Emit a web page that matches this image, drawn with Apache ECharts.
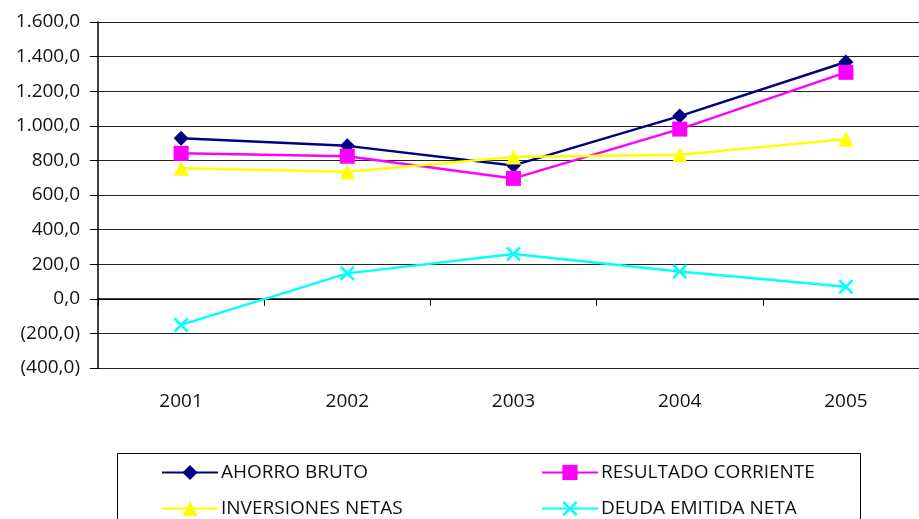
<!DOCTYPE html>
<html>
<head>
<meta charset="utf-8">
<script src="https://cdn.jsdelivr.net/npm/echarts@6/dist/echarts.min.js"></script>
<style>
html,body{margin:0;padding:0;background:#fff;}
#chart{width:919px;height:519px;}
</style>
</head>
<body>
<div id="chart"></div>
<script>
// Years on the category axis
const years = ['2001', '2002', '2003', '2004', '2005'];

// Series values (thousands)
const ahorroBruto = [928, 884, 771, 1056, 1369];
const resultadoCorriente = [841, 824, 696, 981, 1309];
const inversionesNetas = [755, 735, 819, 833, 923];
const deudaEmitidaNeta = [-151, 147, 259, 158, 70];

// Series names
const seriesNames = ['AHORRO BRUTO', 'RESULTADO CORRIENTE', 'INVERSIONES NETAS', 'DEUDA EMITIDA NETA'];

const FONT = '"Open Sans", "Noto Sans", sans-serif';
const FS = 19;
const crossPath = 'path://M0,1.2L1.2,0L5,3.8L8.8,0L10,1.2L6.2,5L10,8.8L8.8,10L5,6.2L1.2,10L0,8.8L3.8,5Z';

// Spanish number format: thousands with '.', decimals with ',', negatives in parentheses
function fmt(v) {
  const a = Math.abs(v);
  const s = a.toFixed(1).replace('.', ',');
  const parts = s.split(',');
  const intPart = parts[0].replace(/\B(?=(\d{3})+(?!\d))/g, '.');
  const out = intPart + ',' + parts[1];
  return v < 0 ? '(' + out + ')' : out;
}

function lineSeries(name, data, color, symbol, size) {
  return {
    name: name,
    type: 'line',
    data: data,
    symbol: symbol,
    symbolSize: size,
    showAllSymbol: true,
    lineStyle: { color: color, width: 2.5 },
    itemStyle: { color: color, borderWidth: 0 },
    emphasis: { disabled: true },
    z: 3
  };
}

// One legend entry per block, laid out as a 2x2 table
function legendItem(left, top, name) {
  return {
    left: left, top: top, orient: 'horizontal', padding: 0,
    itemWidth: 56, itemHeight: 19,
    data: [name],
    textStyle: { fontSize: FS, color: '#111', fontFamily: FONT, padding: [0, 0, 0, -2] },
    selectedMode: false
  };
}

const chart = echarts.init(document.getElementById('chart'), null, { renderer: 'canvas' });

chart.setOption({
  animation: false,
  backgroundColor: '#ffffff',
  textStyle: { fontFamily: FONT },
  grid: { left: 98, top: 22, width: 831, height: 346, outerBoundsMode: 'none', containLabel: false },
  xAxis: {
    type: 'category',
    data: years,
    boundaryGap: true,
    axisLine: { lineStyle: { color: '#000', width: 1.5 } },
    axisTick: { show: true, length: 7, inside: false, lineStyle: { color: '#000' } },
    axisLabel: { color: '#111', fontSize: FS, margin: 24, fontFamily: FONT },
    splitLine: { show: false }
  },
  yAxis: {
    type: 'value',
    min: -400,
    max: 1600,
    interval: 200,
    axisLine: { show: true, lineStyle: { color: '#000', width: 1.5 } },
    axisTick: { show: true, length: 8, lineStyle: { color: '#000' } },
    axisLabel: { color: '#111', fontSize: FS, margin: 18, fontFamily: FONT, formatter: fmt },
    splitLine: { show: true, lineStyle: { color: '#222', width: 1 } }
  },
  legend: [
    legendItem(161, 463, seriesNames[0]),
    legendItem(161, 499, seriesNames[2]),
    legendItem(541, 463, seriesNames[1]),
    legendItem(541, 499, seriesNames[3])
  ],
  graphic: [
    {
      type: 'rect',
      shape: { x: 117.5, y: 453.5, width: 743, height: 80 },
      style: { fill: 'none', stroke: '#000', lineWidth: 1 },
      z: 0
    }
  ],
  series: [
    lineSeries(seriesNames[0], ahorroBruto, '#000080', 'diamond', 15),
    lineSeries(seriesNames[1], resultadoCorriente, '#ff00ff', 'rect', 15),
    lineSeries(seriesNames[2], inversionesNetas, '#ffff00', 'triangle', 15),
    lineSeries(seriesNames[3], deudaEmitidaNeta, '#00ffff', crossPath, 15)
  ]
});
</script>
</body>
</html>
